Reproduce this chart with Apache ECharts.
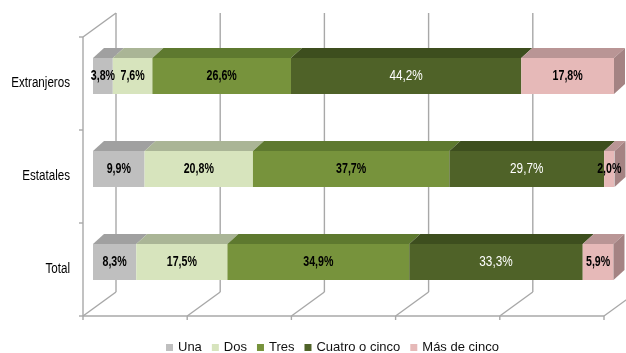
<!DOCTYPE html>
<html>
<head>
<meta charset="utf-8">
<script src="https://cdn.jsdelivr.net/npm/echarts@6/dist/echarts.min.js"></script>
<style>
  html, body { margin: 0; padding: 0; background: #fff; }
  #chart { width: 626px; height: 353px; }
</style>
</head>
<body>
<div id="chart"></div>
<script>
// Household size distribution by group (percent of each row)
const categories = ['Extranjeros', 'Estatales', 'Total'];
const seriesNames = ['Una', 'Dos', 'Tres', 'Cuatro o cinco', 'Más de cinco'];
const una = [3.8, 9.9, 8.3];
const dos = [7.6, 20.8, 17.5];
const tres = [26.6, 37.7, 34.9];
const cuatro = [44.2, 29.7, 33.3];
const masDeCinco = [17.8, 2.0, 5.9];
const valueTicks = [0, 20, 40, 60, 80, 100];

const segments = [una, dos, tres, cuatro, masDeCinco];

// Styling
const FONT = '"Liberation Sans", Arial, sans-serif';
const frontColors = ['#BFBFBF', '#D7E4BD', '#77933C', '#4F6228', '#E6B9B8'];
const topColors = ['#A0A0A0', '#AAB596', '#5E792F', '#3D4E1E', '#B99595'];
const sideColor = '#A48383';
const labelColors = ['#000', '#000', '#000', '#fff', '#000'];
const labelWeights = ['bold', 'bold', 'bold', 'normal', 'bold'];
const labelSquash = [0.76, 0.76, 0.76, 0.84, 0.76];
const BAR_W = 36;
const BAR_DEPTH = [11, -10];     // extrusion of each bar
const FRONT_SHIFT = [-10, 7.5];  // bar front face -> front plane of the box
const BOX_DEPTH = [33, -24];     // front plane -> back wall
const LINE = '#A8A8A8';

// Top/side faces of the stacked bars
const faceData = [];
categories.forEach((c, ci) => {
  let acc = 0;
  segments.forEach((arr, si) => {
    faceData.push([acc, acc + arr[ci], ci, si, arr[ci]]);
    acc += arr[ci];
  });
});

function fmt(v) {
  return v.toFixed(1).replace('.', ',') + '%';
}

const chart = echarts.init(document.getElementById('chart'));

function line(x1, y1, x2, y2) {
  return {
    type: 'line',
    shape: { x1, y1, x2, y2 },
    style: { stroke: LINE, lineWidth: 1.4 }
  };
}

const frameSeries = {
  type: 'custom',
  name: 'frame',
  z: 1,
  silent: true,
  clip: false,
  data: valueTicks.map(v => [v]),
  encode: { x: 0 },
  renderItem(params, api) {
    const v = api.value(0);
    const band = api.size([0, 1])[1];
    const gridTop = api.coord([0, 0])[1] - band / 2;
    const gridBottom = api.coord([0, categories.length - 1])[1] + band / 2;
    const xF = api.coord([v, 0])[0] + FRONT_SHIFT[0];
    const yFB = gridBottom + FRONT_SHIFT[1];
    const yFT = gridTop + FRONT_SHIFT[1];
    const xB = xF + BOX_DEPTH[0];
    const yBB = yFB + BOX_DEPTH[1];
    const yBT = yFT + BOX_DEPTH[1];
    const children = [
      line(xB, yBT, xB, yBB),       // back wall gridline
      line(xB, yBB, xF, yFB),       // floor diagonal
      line(xF, yFB, xF, yFB + 4)    // front tick
    ];
    if (v === valueTicks[0]) {
      const xEnd = api.coord([valueTicks[valueTicks.length - 1], 0])[0] + FRONT_SHIFT[0];
      children.push(line(xF, yFT, xF, yFB));   // left wall front edge
      children.push(line(xF, yFT, xB, yBT));   // left wall top edge
      children.push(line(xF, yFB, xEnd, yFB)); // floor front edge
      for (let i = 0; i <= categories.length; i++) {
        const y = yFT + i * band;
        children.push(line(xF - 4, y, xF, y));
      }
      // category names on the left wall
      categories.forEach((name, i) => {
        children.push({
          type: 'text',
          x: xF - 13,
          y: yFT + (i + 0.5) * band,
          scaleX: 0.83,
          style: {
            text: name,
            fill: '#000',
            font: '14px ' + FONT,
            align: 'right',
            verticalAlign: 'middle'
          }
        });
      });
    }
    return { type: 'group', children };
  }
};

const barSeries = seriesNames.map((name, si) => ({
  type: 'bar',
  name,
  stack: 'total',
  z: 3,
  barWidth: BAR_W,
  data: segments[si],
  itemStyle: { color: frontColors[si] },
  emphasis: { disabled: true }
}));

const faceSeries = {
  type: 'custom',
  name: 'faces',
  z: 4,
  silent: true,
  clip: false,
  data: faceData,
  encode: { x: [0, 1], y: 2 },
  renderItem(params, api) {
    const ci = api.value(2);
    const si = api.value(3);
    const p0 = api.coord([api.value(0), ci]);
    const p1 = api.coord([api.value(1), ci]);
    const yTop = p0[1] - BAR_W / 2;
    const yBot = p0[1] + BAR_W / 2;
    const [dx, dy] = BAR_DEPTH;
    const children = [{
      type: 'polygon',
      shape: { points: [[p0[0], yTop], [p1[0], yTop], [p1[0] + dx, yTop + dy], [p0[0] + dx, yTop + dy]] },
      style: { fill: topColors[si] }
    }];
    if (si === segments.length - 1) {
      children.push({
        type: 'polygon',
        shape: { points: [[p1[0], yTop], [p1[0] + dx, yTop + dy], [p1[0] + dx, yBot + dy], [p1[0], yBot]] },
        style: { fill: sideColor }
      });
    }
    // value label on the front face
    children.push({
      type: 'text',
      x: (p0[0] + p1[0]) / 2,
      y: p0[1],
      scaleX: labelSquash[si],
      style: {
        text: fmt(api.value(4)),
        fill: labelColors[si],
        font: labelWeights[si] + ' 14px ' + FONT,
        align: 'center',
        verticalAlign: 'middle'
      }
    });
    return { type: 'group', children };
  }
};

chart.setOption({
  animation: false,
  backgroundColor: '#fff',
  grid: { left: 93, right: 12, top: 29.5, bottom: 44.5, outerBoundsMode: 'none', containLabel: false },
  xAxis: {
    type: 'value',
    min: 0,
    max: 100,
    interval: 20,
    show: false
  },
  yAxis: {
    type: 'category',
    data: categories,
    inverse: true,
    axisLine: { show: false },
    axisTick: { show: false },
    splitLine: { show: false },
    axisLabel: { show: false }
  },
  legend: {
    data: seriesNames,
    left: 161,
    top: 336,
    icon: 'rect',
    itemWidth: 7,
    itemHeight: 7,
    itemGap: 10,
    textStyle: { fontFamily: FONT, fontSize: 13, color: '#111' },
    selectedMode: false
  },
  series: [frameSeries, ...barSeries, faceSeries]
});
</script>
</body>
</html>
